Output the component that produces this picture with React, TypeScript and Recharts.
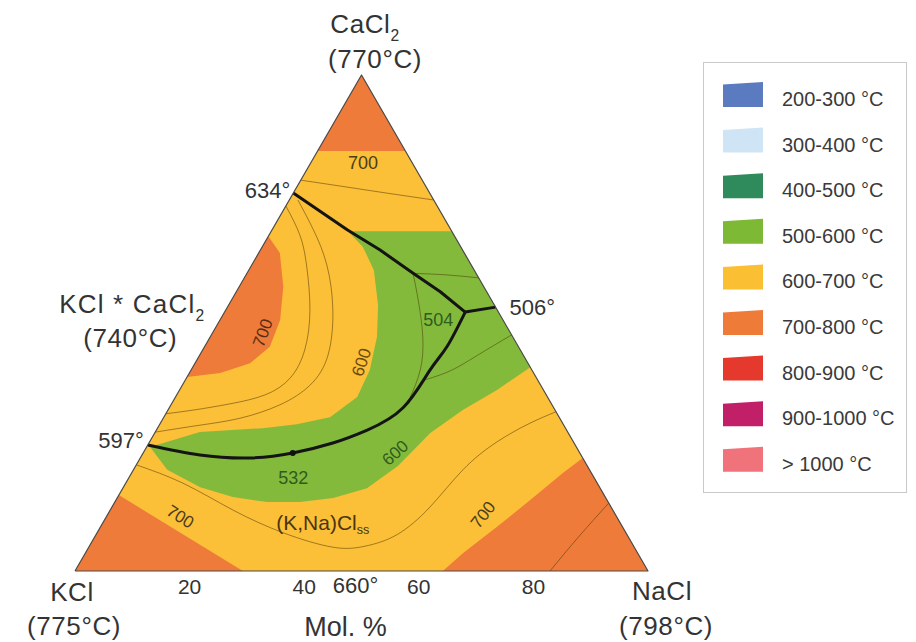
import { ScatterChart, Scatter, XAxis, YAxis } from 'recharts';

type Comp = [number, number]; // [mol % NaCl, mol % CaCl2], KCl is the rest

// liquidus fields
const TRIANGLE: Comp[] = [[0, 0], [100, 0], [0, 100]];
const OUTLINE: Comp[] = [[0, 0], [100, 0], [0, 100], [0, 0]];
const CACL2_CORNER: Comp[] = [[0, 100], [0, 84.7], [15.3, 84.7]];
const COMPOUND_DOME: Comp[] = [
  [0, 67.5], [3.7, 64.1], [7.7, 57.3], [10.5, 50.6], [11.4, 45.2], [9.6, 41.9], [5.4, 39.9], [0, 39.1],
];
const KCL_CORNER: Comp[] = [[0, 0], [0, 15.3], [29.3, 0]];
const NACL_CORNER: Comp[] = [
  [64.2, 0], [65.9, 3.6], [69.2, 8.9], [72.3, 14.3], [75.3, 19.8], [77.2, 22.8], [100, 0],
];
const VALLEY: Comp[] = [
  [13.4, 68.5], [31.5, 68.5], [58.9, 41.1], [55.4, 36.5], [51.5, 32.5], [48.1, 27.8],
  [45.8, 21.2], [42.6, 16.7], [37.7, 14.7], [32.3, 13.9], [26.6, 13.9], [20.1, 14.9],
  [13.4, 16.9], [5.9, 20.4], [0.6, 25.0], [7.8, 28.0], [18.4, 28.8], [23.9, 29.6],
  [29.0, 31.0], [31.7, 35.1], [31.2, 40.5], [29.1, 47.2], [26.1, 53.6], [21.8, 60.7], [17.6, 65.3],
];

// thin isotherms
const ISOTHERMS: Comp[][] = [
  [[0, 78.8], [8.8, 77.4], [15.0, 76.4], [25.2, 74.8]],
  [[0, 73.6], [5.4, 67.7], [9.8, 61.3], [14.7, 52.6], [17.8, 44.6], [18.1, 38.9], [15.4, 35.5], [10.2, 33.7], [4.7, 32.5], [0, 31.7]],
  [[1.5, 74.8], [7.2, 68.8], [13.1, 61.7], [18.7, 52.6], [22.4, 43.5], [22.3, 37.5], [19.0, 33.5], [13.4, 30.8], [7.1, 29.4], [0, 28.0]],
  [[29.2, 60.0], [35.0, 59.7], [40.9, 59.1]],
  [[29.0, 60.0], [32.6, 54.6], [37.1, 47.2], [40.0, 40.5], [41.0, 34.9]],
  [[42.0, 38.6], [45.5, 40.5], [48.5, 43.5], [52.4, 47.6]],
  [[0, 21.4], [10.0, 17.7], [21.4, 12.3], [32.5, 7.7], [42.6, 4.8], [48.1, 5.0], [52.5, 7.3], [55.5, 12.9], [57.5, 20.4], [60.6, 26.0], [64.5, 29.8], [67.9, 32.1]],
  [[82.9, 0], [84.4, 6.7], [86.3, 13.7]],
];

// cotectic / peritectic boundaries
const LINE_634: Comp[] = [[0, 76.2], [13.1, 68.8], [20.9, 64.7], [28.9, 60.1], [35.6, 56.3], [42.0, 52.2]];
const LINE_506: Comp[] = [[42.0, 52.2], [46.8, 53.2]];
const LINE_597: Comp[] = [
  [42.0, 52.2], [42.3, 45.2], [41.7, 40.5], [40.8, 32.9], [36.8, 28.4], [32.1, 25.8],
  [26.1, 23.8], [19.1, 22.8], [10.1, 23.4], [0, 25.4],
];
const SADDLE: Comp[] = [[26.1, 23.8]];

const ISO_LABELS = ['700', '700', '600', '504', '532', '600', '700', '700'];
const ISO_LABEL_AT: Comp[] = [
  [9.1, 82.3], [8.8, 48.0], [29.0, 42.1], [38.1, 50.6], [28.7, 18.8], [44.0, 23.8], [12.9, 10.9], [65.6, 11.3],
];
const SS_LABEL = ['(K,Na)Cl', 'ss'];
const SS_LABEL_AT: Comp = [38.4, 9.7];

const INVARIANTS = ['634°', '597°', '506°', '660°'];
const INVARIANT_AT: Comp[] = [[0, 76.2], [0, 25.4], [46.8, 53.2], [50, 0]];

// KCl, NaCl, CaCl2, KCl*CaCl2
const PHASES = [['KCl', ''], ['NaCl', ''], ['CaCl', '2'], ['KCl * CaCl', '2']];
const MELTS = ['(775°C)', '(798°C)', '(770°C)', '(740°C)'];
const PHASE_AT: Comp[] = [[0, 0], [100, 0], [0, 100], [0, 50]];

const AXIS_TITLE = 'Mol. %';
const BASE_TICKS = [20, 40, 60, 80];

const LEGEND_BANDS = [
  '200-300 °C', '300-400 °C', '400-500 °C', '500-600 °C', '600-700 °C',
  '700-800 °C', '800-900 °C', '900-1000 °C', '> 1000 °C',
];
const LEGEND_COLORS = [
  '#5a7bbf', '#cfe5f6', '#2f8b5b', '#7db935', '#fbbf33',
  '#ee7b38', '#e6392e', '#c21f69', '#f0727b',
];

const FONT = '"Liberation Sans", Arial, Helvetica, sans-serif';
const YELLOW = '#fbbf38';
const ORANGE = '#ee7b3a';
const GREEN = '#83ba3c';
const INK = '#333';

const SQ3 = Math.sqrt(3) / 2;
const toXY = ([na, ca]: Comp) => ({ x: na + ca / 2, y: ca * SQ3 });
const xy = (pts: Comp[]) => pts.map(toXY);

const NoDot = () => null;

const TextMark = (props: any) => {
  const { cx, cy, payload } = props;
  const p = payload;
  const x = cx + (p.dx || 0);
  const y = cy + (p.dy || 0);
  return (
    <text
      x={x} y={y} fontSize={p.size} fill={p.color || INK} fontFamily={FONT}
      letterSpacing={p.spacing || 0}
      textAnchor={p.anchor || 'middle'}
      dominantBaseline={p.mid ? 'central' : undefined}
      transform={p.rot ? `rotate(${p.rot} ${x} ${y})` : undefined}
    >
      {p.text}
      {p.sub ? <tspan fontSize={p.size * 0.6} dy={p.size * 0.32}>{p.sub}</tspan> : null}
    </text>
  );
};

const Dot = (props: any) => <circle cx={props.cx} cy={props.cy} r={3} fill="#111" />;

const field = (key: string, pts: Comp[], color: string) => (
  <Scatter key={key} data={xy(pts)} line={{ fill: color, stroke: 'none' }} lineJointType="linear"
    shape={NoDot} isAnimationActive={false} legendType="none" />
);

const curve = (key: string, pts: Comp[], stroke: string, width: number, type: any = 'natural') => (
  <Scatter key={key} data={xy(pts)} line={{ stroke, strokeWidth: width, fill: 'none', strokeLinejoin: 'round' }}
    lineJointType={type} shape={NoDot} isAnimationActive={false} legendType="none" />
);

export default function App() {
  const isoStyle = [
    { rot: 0, color: '#4a3d1c', size: 18 },
    { rot: -70, color: '#5a2d12', size: 17 },
    { rot: -72, color: '#6b4a0c', size: 17 },
    { rot: 0, color: '#2f5c1c', size: 18 },
    { rot: 0, color: '#2f5c1c', size: 18 },
    { rot: -42, color: '#2f5c1c', size: 17 },
    { rot: 32, color: '#4a3d1c', size: 17 },
    { rot: -52, color: '#4a3d1c', size: 17 },
  ];
  const isoMarks = ISO_LABELS.map((t, i) => ({ ...toXY(ISO_LABEL_AT[i]), text: t, mid: true, ...isoStyle[i] }));
  isoMarks.push({ ...toXY(SS_LABEL_AT), text: SS_LABEL[0], sub: SS_LABEL[1], mid: true, rot: 0, color: '#4b3510', size: 21 } as any);

  const invLayout = [
    { dx: -3, dy: 5, anchor: 'end' },
    { dx: -4, dy: 3, anchor: 'end' },
    { dx: 14, dy: 8, anchor: 'start' },
    { dx: -6, dy: 22, anchor: 'middle' },
  ];
  const invMarks = INVARIANTS.map((t, i) => ({ ...toXY(INVARIANT_AT[i]), text: t, size: 22, ...invLayout[i] }));

  const nameLayout = [
    { dx: -3, dy: 30 }, { dx: 14, dy: 29 }, { dx: 3.5, dy: -42 }, { dx: -86, dy: -10 },
  ];
  const meltLayout = [
    { dx: -1, dy: 64 }, { dx: 18, dy: 64 }, { dx: 13.5, dy: -7 }, { dx: -88, dy: 24 },
  ];
  const phaseMarks = [
    ...PHASES.map(([t, s], i) => ({ ...toXY(PHASE_AT[i]), text: t, sub: s, size: 26, spacing: i === 3 ? 1.2 : 0.6, ...nameLayout[i] })),
    ...MELTS.map((t, i) => ({ ...toXY(PHASE_AT[i]), text: t, size: 26, spacing: 0.6, ...meltLayout[i] })),
    { ...toXY([50, 0]), text: AXIS_TITLE, size: 27, dx: -16, dy: 65 },
  ];

  return (
    <div style={{ position: 'absolute', left: 0, top: 0, width: 916, height: 642, background: '#fff', fontFamily: FONT }}>
      <ScatterChart width={916} height={642} margin={{ top: 75, right: 268, bottom: 41, left: 75 }}>
        <XAxis type="number" dataKey="x" domain={[0, 100]} ticks={BASE_TICKS} interval={0}
          axisLine={false} tickLine={false} height={30}
          tick={{ fontSize: 21, fill: INK, fontFamily: FONT }} />
        <YAxis type="number" dataKey="y" domain={[0, 100 * SQ3]} hide />

        {field('tri', TRIANGLE, YELLOW)}
        {field('ca', CACL2_CORNER, ORANGE)}
        {field('dome', COMPOUND_DOME, ORANGE)}
        {field('k', KCL_CORNER, ORANGE)}
        {field('na', NACL_CORNER, ORANGE)}
        {field('valley', VALLEY, GREEN)}

        {ISOTHERMS.map((pts, i) => curve(`iso${i}`, pts, 'rgba(70,50,0,0.5)', 1))}

        {curve('l634', LINE_634, '#141414', 3, 'linear')}
        {curve('l506', LINE_506, '#141414', 3, 'linear')}
        {curve('l597', LINE_597, '#141414', 3)}
        <Scatter data={xy(SADDLE)} shape={Dot} isAnimationActive={false} legendType="none" />

        {curve('outline', OUTLINE, '#4a4a4a', 1.2, 'linear')}

        <Scatter data={isoMarks} shape={TextMark} isAnimationActive={false} legendType="none" />
        <Scatter data={invMarks} shape={TextMark} isAnimationActive={false} legendType="none" />
        <Scatter data={phaseMarks} shape={TextMark} isAnimationActive={false} legendType="none" />
      </ScatterChart>

      <svg width={205} height={432} style={{ position: 'absolute', left: 703, top: 62 }}>
        <rect x={0.5} y={0.5} width={203} height={430} fill="#fff" stroke="#c9c9c9" />
        {LEGEND_BANDS.map((b, i) => {
          const top = 20 + i * 45.6;
          return (
            <g key={b}>
              <polygon points={`20,${top + 2.5} 60,${top} 60,${top + 25} 20,${top + 25}`} fill={LEGEND_COLORS[i]} />
              <text x={79} y={top + 24} fontSize={20} fill="#3a3a3a" fontFamily={FONT}>{b}</text>
            </g>
          );
        })}
      </svg>
    </div>
  );
}
